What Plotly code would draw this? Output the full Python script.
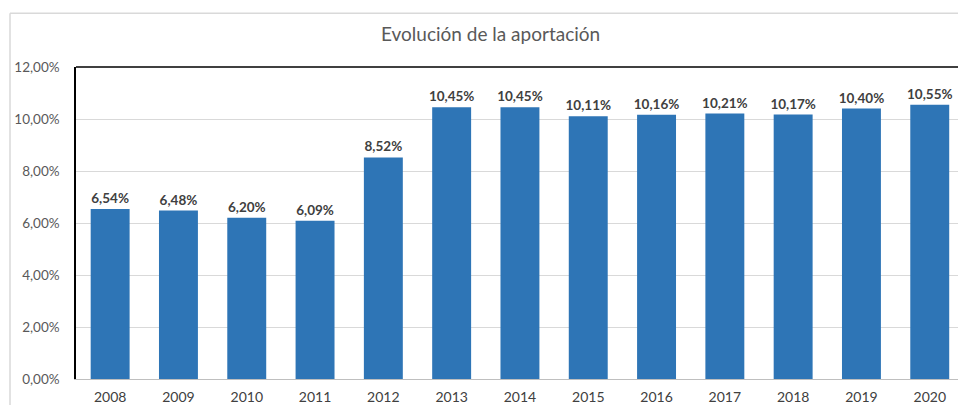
import plotly.graph_objects as go

years = ["2008", "2009", "2010", "2011", "2012", "2013", "2014",
         "2015", "2016", "2017", "2018", "2019", "2020"]
aportacion = [6.54, 6.48, 6.20, 6.09, 8.52, 10.45, 10.45,
              10.11, 10.16, 10.21, 10.17, 10.40, 10.55]
y_ticks = [0, 2, 4, 6, 8, 10, 12]
y_tick_labels = ["0,00%", "2,00%", "4,00%", "6,00%", "8,00%", "10,00%", "12,00%"]

W, H = 958, 405
L, R, T, B = 76, 0, 67, 24
plot_w = W - L - R
plot_h = H - T - B
step = 68.3  # pixels per category


def px_x(px):
    return (px - L) / plot_w


def px_y(py):
    return (H - B - py) / plot_h


FONT = "Lato, 'Open Sans', sans-serif"

fig = go.Figure(
    go.Bar(
        x=years,
        y=aportacion,
        marker=dict(color="#2E75B6", line=dict(width=0)),
        texttemplate="%{y:.2f}%",
        textposition="outside",
        textangle=0,
        constraintext="none",
        textfont=dict(family=FONT, size=13.5, color="#404040", weight="bold"),
        cliponaxis=False,
        hoverinfo="skip",
    )
)

fig.update_layout(
    width=W,
    height=H,
    margin=dict(l=L, r=R, t=T, b=B, pad=0),
    paper_bgcolor="white",
    plot_bgcolor="white",
    separators=",.",
    bargap=0.43,
    showlegend=False,
    font=dict(family=FONT, size=13, color="#595959"),
    xaxis=dict(
        type="category",
        range=[-0.5, -0.5 + plot_w / step],
        showline=True,
        linecolor="#bfbfbf",
        linewidth=1,
        showgrid=False,
        ticks="",
        tickfont=dict(size=14, color="#404040"),
        ticklabelstandoff=5,
        fixedrange=True,
    ),
    yaxis=dict(
        range=[0, 12],
        tickmode="array",
        tickvals=y_ticks,
        ticktext=y_tick_labels,
        showline=True,
        linecolor="#000000",
        linewidth=1.5,
        showgrid=True,
        gridcolor="#d9d9d9",
        gridwidth=1,
        zeroline=False,
        ticks="",
        tickfont=dict(size=13.5, color="#595959"),
        ticklabelstandoff=12,
        fixedrange=True,
    ),
    shapes=[
        # top edge of the plot frame
        dict(type="line", xref="paper", yref="paper", x0=0, x1=1.01, y0=1, y1=1,
             line=dict(color="#404040", width=2)),
        # outer chart border (left and top)
        dict(type="line", xref="paper", yref="paper",
             x0=px_x(10), x1=px_x(10), y0=px_y(420), y1=px_y(13),
             line=dict(color="#d9d9d9", width=1.5)),
        dict(type="line", xref="paper", yref="paper",
             x0=px_x(10), x1=1.01, y0=px_y(13), y1=px_y(13),
             line=dict(color="#d9d9d9", width=1.5)),
    ],
    annotations=[
        dict(text="Evolución de la aportación", xref="paper", yref="paper",
             x=px_x(490), y=px_y(33), xanchor="center", yanchor="middle",
             showarrow=False, font=dict(family=FONT, size=19, color="#595959")),
    ],
)

fig.write_html("out.html", config={"displayModeBar": False})
